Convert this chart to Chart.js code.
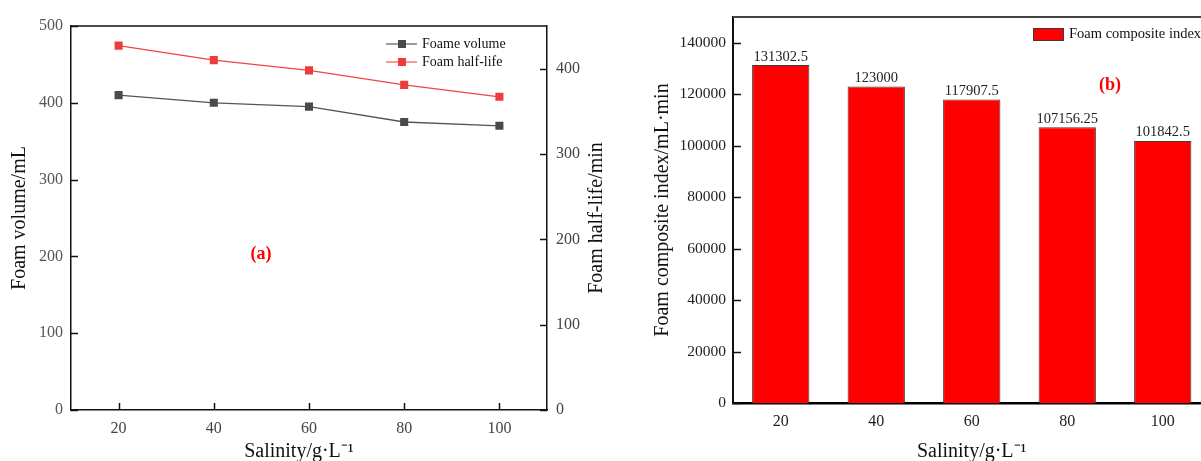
<!DOCTYPE html>
<html>
<head>
<meta charset="utf-8">
<script src="https://cdn.jsdelivr.net/npm/chart.js@4.4.0/dist/chart.umd.min.js"></script>
<style>
  html, body { margin: 0; padding: 0; background: #fff; overflow: hidden; width: 1201px; height: 461px; }
  #left { position: absolute; left: 0; top: 0; }
  #right { position: absolute; left: 630px; top: 0; }
</style>
</head>
<body>
<canvas id="left" width="620" height="461"></canvas>
<canvas id="right" width="600" height="461"></canvas>
<script>
// salinity, g/L
const salinity = ['20', '40', '60', '80', '100'];
const foamVolume = [410, 400, 395, 375, 370];
const foamHalfLife = [427, 410, 398, 381, 367];
const compositeIndex = [131302.5, 123000, 117907.5, 107156.25, 101842.5];

const volumeTicks = [0, 100, 200, 300, 400, 500];
const halfLifeTicks = [0, 100, 200, 300, 400];
const indexTicks = [0, 20000, 40000, 60000, 80000, 100000, 120000, 140000];

const serif = '"Liberation Serif", "Times New Roman", serif';
Chart.defaults.font.family = serif;

function setTicks(list) {
    return function(scale) {
        scale.ticks = list.map(v => ({value: v}));
    };
}

// plain numbers, no thousands separators
function plain(v) {
    return String(v);
}

// small tick marks pointing into the plot
const innerTicks = {
    id: 'innerTicks',
    afterDatasetsDraw(chart, args, opts) {
        const ctx = chart.ctx;
        const area = chart.chartArea;
        ctx.save();
        ctx.strokeStyle = opts.color || '#000';
        ctx.lineWidth = opts.width || 1.5;
        (opts.scales || []).forEach(id => {
            const s = chart.scales[id];
            s.ticks.forEach((t, i) => {
                const p = Math.round(s.getPixelForTick(i)) + 0.5;
                ctx.beginPath();
                if (s.position === 'left') {
                    ctx.moveTo(area.left, p); ctx.lineTo(area.left + opts.len, p);
                } else if (s.position === 'right') {
                    ctx.moveTo(area.right, p); ctx.lineTo(area.right - opts.len, p);
                } else {
                    ctx.moveTo(p, area.bottom); ctx.lineTo(p, area.bottom - opts.len);
                }
                ctx.stroke();
            });
        });
        ctx.restore();
    }
};

// top frame line
const topFrame = {
    id: 'topFrame',
    afterDatasetsDraw(chart, args, opts) {
        const ctx = chart.ctx;
        const a = chart.chartArea;
        ctx.save();
        ctx.strokeStyle = opts.color;
        ctx.lineWidth = opts.width;
        ctx.beginPath();
        ctx.moveTo(a.left, a.top);
        ctx.lineTo(opts.toEdge ? chart.width : a.right, a.top);
        ctx.stroke();
        ctx.restore();
    }
};

// panel letter like (a) / (b)
const panelTag = {
    id: 'panelTag',
    afterDraw(chart, args, opts) {
        const ctx = chart.ctx;
        ctx.save();
        ctx.font = 'bold 18px ' + serif;
        ctx.fillStyle = '#ff0000';
        ctx.textAlign = 'center';
        ctx.textBaseline = 'middle';
        ctx.fillText(opts.text, opts.x, opts.y);
        ctx.restore();
    }
};

// legend for the line chart: line + square marker
const lineLegend = {
    id: 'lineLegend',
    afterDraw(chart) {
        const ctx = chart.ctx;
        const x0 = 386, y0 = 44, gap = 18;
        ctx.save();
        chart.data.datasets.forEach((ds, i) => {
            const y = y0 + i * gap;
            ctx.strokeStyle = ds.legendLine;
            ctx.lineWidth = 2;
            ctx.beginPath();
            ctx.moveTo(x0, y); ctx.lineTo(x0 + 31, y);
            ctx.stroke();
            ctx.fillStyle = ds.pointBackgroundColor;
            ctx.fillRect(x0 + 12, y - 4, 8, 8);
            ctx.fillStyle = '#111';
            ctx.font = '14px ' + serif;
            ctx.textBaseline = 'middle';
            ctx.fillText(ds.label, x0 + 36, y);
        });
        ctx.restore();
    }
};

// rotated title for the right axis, reading bottom to top
const rightTitle = {
    id: 'rightTitle',
    afterDraw(chart) {
        const ctx = chart.ctx;
        const s = chart.scales.y1;
        const a = chart.chartArea;
        ctx.save();
        ctx.translate(s.right - 23, (a.top + a.bottom) / 2);
        ctx.rotate(-Math.PI / 2);
        ctx.font = '20px ' + serif;
        ctx.fillStyle = '#111';
        ctx.textAlign = 'center';
        ctx.textBaseline = 'middle';
        ctx.fillText('Foam half-life/min', 0, 0);
        ctx.restore();
    }
};

new Chart(document.getElementById('left'), {
    type: 'line',
    data: {
        labels: salinity,
        datasets: [
            {
                label: 'Foame volume',
                data: foamVolume,
                yAxisID: 'y',
                borderColor: '#555555',
                borderWidth: 1.3,
                pointStyle: 'rect',
                pointRadius: 5.7,
                pointBorderWidth: 0,
                pointBackgroundColor: '#4a4a4a',
                legendLine: '#9a9a9a'
            },
            {
                label: 'Foam half-life',
                data: foamHalfLife,
                yAxisID: 'y1',
                borderColor: '#f04545',
                borderWidth: 1.3,
                pointStyle: 'rect',
                pointRadius: 5.7,
                pointBorderWidth: 0,
                pointBackgroundColor: '#ee3b3b',
                legendLine: '#f79a9a'
            }
        ]
    },
    options: {
        responsive: false,
        animation: false,
        layout: {padding: {top: 26, left: 0, right: 0, bottom: 0}},
        plugins: {
            legend: {display: false},
            tooltip: {enabled: false},
            innerTicks: {scales: ['x', 'y', 'y1'], len: 7, color: '#111', width: 1.5},
            topFrame: {color: '#111', width: 1.5},
            panelTag: {text: '(a)', x: 261, y: 254}
        },
        scales: {
            x: {
                type: 'category',
                offset: true,
                grid: {display: false, drawTicks: false},
                border: {color: '#111', width: 1.5},
                ticks: {color: '#444', font: {size: 16}, padding: 9},
                title: {display: true, text: 'Salinity/g·L⁻¹    ', color: '#111', font: {size: 20}, padding: {top: 0, bottom: -3}},
                afterFit(s) { s.height = 51; }
            },
            y: {
                position: 'left',
                min: 0, max: 500,
                afterBuildTicks: setTicks(volumeTicks),
                grid: {display: false, drawTicks: false},
                border: {color: '#111', width: 1.5},
                ticks: {color: '#555', font: {size: 16}, padding: 8, callback: plain},
                title: {display: true, text: 'Foam volume/mL', color: '#111', font: {size: 20}, padding: {top: 8, bottom: 0}},
                afterFit(s) { s.width = 71; }
            },
            y1: {
                position: 'right',
                min: 0, max: 450,
                afterBuildTicks: setTicks(halfLifeTicks),
                grid: {display: false, drawTicks: false},
                border: {color: '#111', width: 1.5},
                ticks: {color: '#444', font: {size: 16}, padding: 9, callback: plain},
                afterFit(s) { s.width = 73; }
            }
        }
    },
    plugins: [innerTicks, topFrame, panelTag, lineLegend, rightTitle]
});

// value labels above the bars
const barValues = {
    id: 'barValues',
    afterDatasetsDraw(chart) {
        const ctx = chart.ctx;
        const meta = chart.getDatasetMeta(0);
        ctx.save();
        ctx.font = '14.5px ' + serif;
        ctx.fillStyle = '#222';
        ctx.textAlign = 'center';
        ctx.textBaseline = 'bottom';
        meta.data.forEach((bar, i) => {
            ctx.fillText(String(compositeIndex[i]), bar.x, bar.y - 1);
        });
        ctx.restore();
    }
};

const boxLegend = {
    id: 'boxLegend',
    afterDraw(chart) {
        const ctx = chart.ctx;
        const ds = chart.data.datasets[0];
        const x0 = 403, y0 = 28;
        ctx.save();
        ctx.fillStyle = ds.backgroundColor;
        ctx.fillRect(x0, y0, 30, 12);
        ctx.strokeStyle = ds.borderColor;
        ctx.lineWidth = 1;
        ctx.strokeRect(x0 + 0.5, y0 + 0.5, 30, 12);
        ctx.fillStyle = '#111';
        ctx.font = '14.5px ' + serif;
        ctx.textBaseline = 'middle';
        ctx.fillText(ds.label, x0 + 36, y0 + 6);
        ctx.restore();
    }
};

new Chart(document.getElementById('right'), {
    type: 'bar',
    data: {
        labels: salinity,
        datasets: [{
            label: 'Foam composite index',
            data: compositeIndex,
            backgroundColor: '#ff0000',
            borderColor: '#3c3c3c',
            borderWidth: 1,
            categoryPercentage: 1,
            barPercentage: 0.6
        }]
    },
    options: {
        responsive: false,
        animation: false,
        layout: {padding: {top: 17, left: 0, right: 19.5, bottom: 0}},
        plugins: {
            legend: {display: false},
            tooltip: {enabled: false},
            innerTicks: {scales: ['y'], len: 8, color: '#111', width: 1.5},
            topFrame: {color: '#444', width: 2, toEdge: true},
            panelTag: {text: '(b)', x: 480, y: 85}
        },
        scales: {
            x: {
                grid: {display: false, drawTicks: false},
                border: {color: '#000', width: 2.5},
                ticks: {color: '#222', font: {size: 16}, padding: 9},
                title: {display: true, text: 'Salinity/g·L⁻¹', color: '#111', font: {size: 20}, padding: {top: 0, bottom: -3}},
                afterFit(s) { s.height = 58; }
            },
            y: {
                min: 0, max: 150000,
                afterBuildTicks: setTicks(indexTicks),
                grid: {display: false, drawTicks: false},
                border: {color: '#111', width: 2},
                ticks: {color: '#222', font: {size: 15.5}, padding: 7, callback: plain},
                title: {display: true, text: 'Foam composite index/mL·min', color: '#111', font: {size: 20}, padding: {top: 21, bottom: 0}},
                afterFit(s) { s.width = 103; }
            }
        }
    },
    plugins: [innerTicks, topFrame, panelTag, barValues, boxLegend]
});
</script>
</body>
</html>
